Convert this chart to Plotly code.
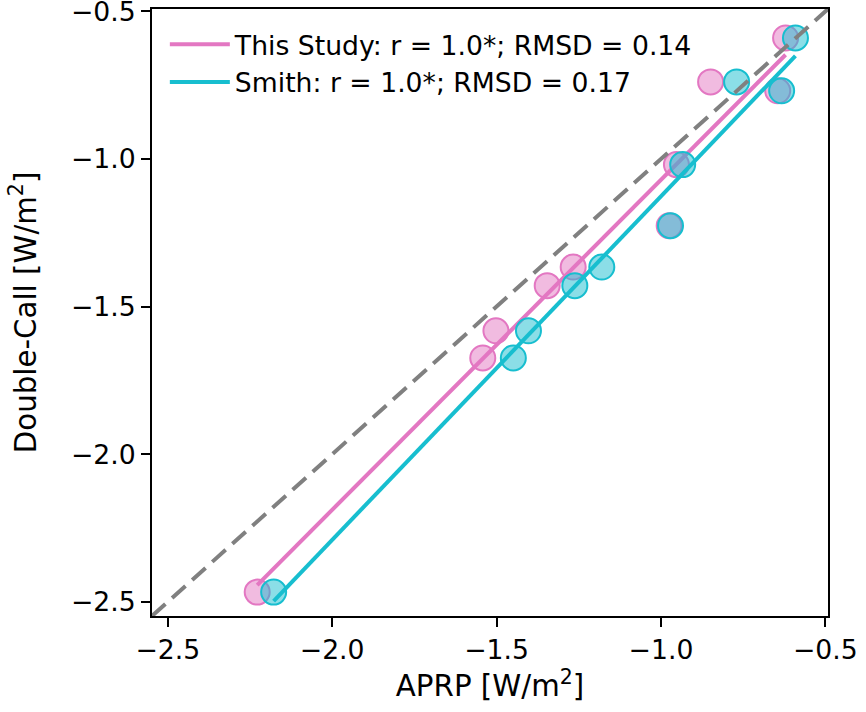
import numpy as np
import plotly.graph_objects as go

# Double-Call values (shared y for both series)
double_call = [-2.467, -1.674, -1.582, -1.429, -1.366, -1.226, -1.019, -0.769, -0.739, -0.590]
# APRP values, this study
aprp_this = [-2.228, -1.542, -1.502, -1.346, -1.267, -0.975, -0.953, -0.645, -0.849, -0.621]
# APRP values, Smith
aprp_smith = [-2.178, -1.449, -1.403, -1.262, -1.180, -0.971, -0.934, -0.633, -0.770, -0.591]

series_names = ["This Study: r = 1.0*; RMSD = 0.14", "Smith: r = 1.0*; RMSD = 0.17"]
series_colors = ["#e377c2", "#17becf"]
series_fill = ["rgba(227,119,194,0.5)", "rgba(23,190,207,0.5)"]

axis_range = [-2.548, -0.492]
tick_vals = [-2.5, -2.0, -1.5, -1.0, -0.5]
tick_text = ["\u22122.5", "\u22122.0", "\u22121.5", "\u22121.0", "\u22120.5"]

FONT = "DejaVu Sans"
FS = 26.67
TFS = 29.3

fig = go.Figure()

for xs, name, col, fill in zip([aprp_this, aprp_smith], series_names, series_colors, series_fill):
    xa = np.array(xs)
    ya = np.array(double_call)
    fig.add_trace(go.Scatter(
        x=xa, y=ya, mode="markers", showlegend=False,
        marker=dict(size=25, color=fill, line=dict(color=col, width=2)),
        cliponaxis=True,
    ))
    slope, icpt = np.polyfit(xa, ya, 1)
    xl = np.array([xa.min(), xa.max()])
    fig.add_trace(go.Scatter(
        x=xl, y=slope * xl + icpt, mode="lines", name=name,
        line=dict(color=col, width=4),
    ))

# 1:1 reference line across the axis range
fig.add_trace(go.Scatter(
    x=axis_range, y=axis_range, mode="lines", showlegend=False,
    line=dict(color="#808080", width=4, dash="18px,9px"),
))

axis_common = dict(
    range=axis_range, tickvals=tick_vals, ticktext=tick_text,
    showgrid=False, zeroline=False, automargin=False,
    showline=True, linecolor="black", linewidth=2, mirror=True,
    ticks="outside", ticklen=9, tickwidth=2, tickcolor="black",
    ticklabeloverflow="allow",
    tickfont=dict(family=FONT, size=FS, color="black"),
)

fig.update_layout(
    width=866, height=712,
    margin=dict(l=152, r=38, t=9, b=96),
    paper_bgcolor="white", plot_bgcolor="white",
    font=dict(family=FONT, size=FS, color="black"),
    xaxis=dict(axis_common, title=dict(text="APRP [W/m<sup>2</sup>]", font=dict(family=FONT, size=TFS), standoff=10)),
    yaxis=dict(axis_common, title=dict(text="Double-Call [W/m<sup>2</sup>]", font=dict(family=FONT, size=TFS), standoff=26)),
    legend=dict(x=0.019, y=0.981, xanchor="left", yanchor="top", bgcolor="rgba(0,0,0,0)",
                font=dict(family=FONT, size=FS, color="black"), itemwidth=60,
                tracegroupgap=0),
    showlegend=True,
)

fig.write_html("out.html", config={"displayModeBar": False},
               post_script="document.body.style.margin='0px';")
